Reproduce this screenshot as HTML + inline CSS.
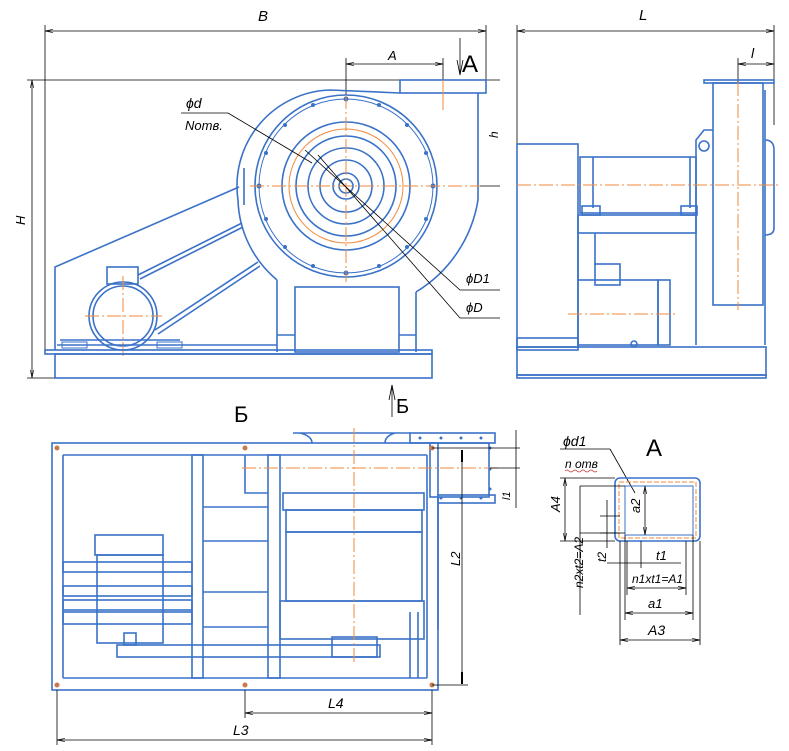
<!DOCTYPE html>
<html><head><meta charset="utf-8"><style>
html,body{margin:0;padding:0;background:#fff;}
svg{display:block;}
text{font-family:"Liberation Sans",sans-serif;font-style:italic;fill:#000;}
.b{stroke:#3a72c8;fill:none;stroke-width:1.6;}
.bt{stroke:#3a72c8;fill:none;stroke-width:1;}
.o{stroke:#f08a3c;fill:none;stroke-width:1;stroke-dasharray:14,3,2,3;}
.oc{stroke:#f08a3c;fill:none;stroke-width:1;}
.k{stroke:#000;fill:none;stroke-width:0.8;}
.d{fill:#3a72c8;}
</style></head><body>
<svg width="789" height="751" viewBox="0 0 789 751" xmlns="http://www.w3.org/2000/svg">
<defs>
<marker id="a" markerWidth="10" markerHeight="6" refX="10" refY="3" orient="auto-start-reverse"><path d="M0,1 L10,3 L0,5" fill="none" stroke="#000" stroke-width="0.8"/></marker>
</defs>

<!-- ===== FRONT VIEW ===== -->
<line class="k" x1="45" y1="31" x2="486" y2="31" marker-start="url(#a)" marker-end="url(#a)"/>
<line class="k" x1="45" y1="25" x2="45" y2="350"/>
<line class="k" x1="486" y1="25" x2="486" y2="80"/>
<text x="258" y="21" font-size="15">B</text>
<line class="k" x1="27" y1="80" x2="500" y2="80"/>
<line class="k" x1="27" y1="378" x2="57" y2="378"/>
<line class="k" x1="32" y1="80" x2="32" y2="378" marker-start="url(#a)" marker-end="url(#a)"/>
<text x="25" y="235" font-size="13" transform="rotate(-90 20 230)">H</text>
<line class="k" x1="346" y1="64" x2="443" y2="64" marker-start="url(#a)" marker-end="url(#a)"/>
<line class="k" x1="346" y1="58" x2="346" y2="100"/>
<line class="k" x1="443" y1="58" x2="443" y2="80"/>
<text x="388" y="60" font-size="13">A</text>
<line class="k" x1="460" y1="38" x2="460" y2="75"/>
<path d="M457,60 L460,75 L463,60" fill="none" stroke="#000" stroke-width="0.8"/>
<text x="462" y="72" font-size="24" style="font-style:normal">A</text>
<!-- h dim -->
<line class="k" x1="480" y1="186" x2="500" y2="186"/>
<text x="488" y="140" font-size="12" transform="rotate(-90 492 134)">h</text>

<!-- outlet -->
<rect class="b" x="400" y="80" width="86" height="13"/>
<line class="oc" x1="443" y1="80" x2="443" y2="110"/>
<!-- scroll -->
<path class="b" d="M400,93 L330,90 A 96 96 0 0 0 238,200 A 108 108 0 0 0 277,280 M416,292 A 132 132 0 0 0 478,200 L478,93"/>
<path class="b" d="M244,168 L244,205"/>
<!-- flange -->
<circle class="b" cx="346" cy="186" r="91"/>
<circle class="bt" cx="346" cy="186" r="87"/>
<g class="d">
<circle cx="346" cy="99" r="2.5"/><circle cx="346" cy="273" r="2.5"/><circle cx="259" cy="186" r="2.5"/><circle cx="433" cy="186" r="2.5"/>
<circle cx="313" cy="105" r="2"/><circle cx="379" cy="105" r="2"/><circle cx="285" cy="125" r="2"/><circle cx="407" cy="125" r="2"/>
<circle cx="266" cy="153" r="2"/><circle cx="426" cy="153" r="2"/><circle cx="266" cy="219" r="2"/><circle cx="426" cy="219" r="2"/>
<circle cx="285" cy="247" r="2"/><circle cx="407" cy="247" r="2"/><circle cx="313" cy="266" r="2"/><circle cx="379" cy="266" r="2"/>
</g>
<circle class="b" cx="346" cy="186" r="64"/>
<circle class="oc" cx="346" cy="186" r="57"/>
<circle class="b" cx="346" cy="186" r="50"/>
<circle class="b" cx="346" cy="186" r="38"/>
<circle class="b" cx="346" cy="186" r="26"/>
<circle class="b" cx="346" cy="186" r="13"/>
<circle class="b" cx="346" cy="186" r="7"/>
<line class="o" x1="250" y1="186" x2="480" y2="186"/>
<line class="o" x1="346" y1="95" x2="346" y2="282"/>
<!-- pedestal -->
<rect class="b" x="295" y="287" width="104" height="65"/>
<path class="b" d="M277,280 L277,352 M416,292 L416,352 M277,335 L295,335 M399,335 L416,335"/>
<!-- motor frame -->
<path class="b" d="M55,350 L55,267 L239,187"/>
<path class="b" d="M138,275 L242,223 M140,279 L243,227 M155,330 L258,262 M158,334 L260,266"/>
<rect class="b" x="107" y="267" width="31" height="17"/>
<circle class="b" cx="123" cy="316" r="34"/>
<circle class="b" cx="123" cy="316" r="30"/>
<line class="o" x1="85" y1="316" x2="162" y2="316"/>
<line class="o" x1="123" y1="276" x2="123" y2="357"/>
<!-- base -->
<rect class="b" x="45" y="350" width="387" height="4"/>
<rect class="b" x="55" y="354" width="377" height="24"/>
<path class="b" d="M57,345 L277,345 M60,340 L180,340"/>
<rect class="bt" x="62" y="342" width="25" height="6"/><rect class="bt" x="157" y="342" width="25" height="6"/>
<!-- leaders -->
<text x="186" y="108" font-size="14">ϕd</text>
<line class="k" x1="181" y1="113" x2="228" y2="113"/>
<text x="185" y="130" font-size="13">Nomв.</text>
<path class="k" d="M228,113 L312,163"/>
<path class="k" d="M305,150 L460,290 L500,290"/>
<path class="k" d="M318,155 L460,318 L500,318"/>
<text x="466" y="283" font-size="13">ϕD1</text>
<text x="466" y="312" font-size="13">ϕD</text>
<line class="k" x1="392" y1="385" x2="392" y2="417"/>
<path d="M389,400 L392,385 L395,400" fill="none" stroke="#000" stroke-width="0.8"/>
<text x="396" y="413" font-size="20" style="font-style:normal">Б</text>

<!-- ===== SIDE VIEW ===== -->
<line class="k" x1="517" y1="31" x2="774" y2="31" marker-start="url(#a)" marker-end="url(#a)"/>
<line class="k" x1="517" y1="25" x2="517" y2="144"/>
<line class="k" x1="774" y1="25" x2="774" y2="125"/>
<text x="639" y="20" font-size="15">L</text>
<line class="k" x1="738" y1="64" x2="774" y2="64" marker-start="url(#a)" marker-end="url(#a)"/>
<line class="k" x1="738" y1="58" x2="738" y2="82"/>
<text x="751" y="58" font-size="14">l</text>
<rect class="b" x="704" y="80" width="70" height="3"/>
<rect class="b" x="713" y="83" width="50" height="222"/>
<line class="b" x1="765" y1="90" x2="765" y2="345"/>
<path class="b" d="M765,140 Q774,140 774,150 L774,228 Q774,235 765,235"/>
<rect class="b" x="517" y="144" width="61" height="206"/>
<rect class="b" x="580" y="157" width="116" height="56"/>
<path class="b" d="M593,157 L593,208 M690,157 L690,208"/>
<rect class="b" x="582" y="206" width="18" height="9"/><rect class="b" x="681" y="206" width="16" height="9"/>
<rect class="b" x="578" y="215" width="118" height="18"/>
<path class="b" d="M696,345 L696,140 L704,130 L713,130 M578,233 L578,280 M595,233 L595,265"/>
<circle class="b" cx="704" cy="146" r="5"/>
<rect class="b" x="595" y="264" width="25" height="21"/>
<rect class="b" x="578" y="280" width="80" height="65"/>
<rect class="b" x="658" y="280" width="12" height="65"/>
<circle class="b" cx="634" cy="344" r="3"/>
<rect class="b" x="517" y="338" width="61" height="9"/>
<rect class="b" x="517" y="347" width="249" height="28"/>
<rect class="b" x="517" y="375" width="249" height="3"/>
<line class="o" x1="517" y1="185" x2="779" y2="185"/>
<line class="o" x1="738" y1="82" x2="738" y2="310"/>
<line class="o" x1="568" y1="314" x2="678" y2="314"/>

<!-- ===== VIEW Б ===== -->
<text x="234" y="422" font-size="22" style="font-style:normal">Б</text>
<rect class="b" x="52" y="443" width="386" height="247"/>
<path class="b" d="M63,455 L427,455 M63,678 L427,678 M63,455 L63,678 M427,455 L427,678"/>
<rect class="b" x="192" y="455" width="11" height="223"/>
<rect class="b" x="268" y="455" width="12" height="223"/>
<path class="b" d="M203,507 L268,507 M203,541 L268,541 M203,592 L268,592 M203,627 L268,627"/>
<path class="b" d="M293,433 L410,433 M300,433 Q312,436 312,443 M395,433 Q385,436 385,443"/>
<rect class="b" x="410" y="433" width="85" height="10"/>
<rect class="b" x="430" y="443" width="59" height="54"/>
<rect class="b" x="438" y="495" width="57" height="8"/>
<path class="b" d="M438,503 L438,630 M245,455 L245,493 L268,493"/>
<rect class="b" x="283" y="493" width="141" height="17"/>
<rect class="b" x="286" y="510" width="136" height="22"/>
<rect class="b" x="286" y="532" width="136" height="69"/>
<rect class="b" x="280" y="601" width="144" height="38"/>
<rect class="b" x="95" y="535" width="68" height="20"/>
<rect class="b" x="97" y="555" width="66" height="88"/>
<rect class="b" x="63" y="562" width="129" height="10"/>
<rect class="b" x="63" y="586" width="129" height="10"/>
<rect class="b" x="63" y="600" width="129" height="10"/>
<rect class="b" x="63" y="612" width="129" height="12"/>
<rect class="b" x="124" y="633" width="12" height="12"/>
<rect class="b" x="117" y="645" width="263" height="12"/>
<rect class="b" x="332" y="637" width="45" height="20"/>
<path class="b" d="M410,612 L410,678 M418,612 L418,678"/>
<line class="o" x1="242" y1="468" x2="500" y2="468"/>
<line class="o" x1="354" y1="428" x2="354" y2="663"/>
<g fill="#c87a4a"><circle cx="57" cy="448" r="2.5"/><circle cx="245" cy="448" r="2.5"/><circle cx="432" cy="448" r="2.5"/><circle cx="57" cy="685" r="2.5"/><circle cx="245" cy="685" r="2.5"/><circle cx="432" cy="685" r="2.5"/></g>
<g class="d"><circle cx="420" cy="438" r="1.5"/><circle cx="441" cy="438" r="1.5"/><circle cx="461" cy="438" r="1.5"/><circle cx="481" cy="438" r="1.5"/><circle cx="490" cy="448" r="1.5"/><circle cx="490" cy="469" r="1.5"/><circle cx="490" cy="489" r="1.5"/><circle cx="441" cy="498" r="1.5"/><circle cx="461" cy="498" r="1.5"/><circle cx="481" cy="498" r="1.5"/></g>
<path class="k" d="M432,448 L520,448 M490,468 L520,468 M432,685 L468,685"/>
<line class="k" x1="516" y1="430" x2="516" y2="508"/>
<line stroke="#000" stroke-width="2" x1="462" y1="450" x2="462" y2="462"/><line stroke="#000" stroke-width="2" x1="462" y1="672" x2="462" y2="684"/>
<line class="k" x1="462" y1="450" x2="462" y2="684"/>
<text x="457" y="573" font-size="13" transform="rotate(-90 455 568)">L2</text>
<text x="500" y="502" font-size="11" transform="rotate(-90 504 496)">l1</text>
<line class="k" x1="57" y1="690" x2="57" y2="745"/>
<line class="k" x1="245" y1="690" x2="245" y2="718"/>
<line class="k" x1="432" y1="690" x2="432" y2="745"/>
<line class="k" x1="245" y1="713" x2="432" y2="713" marker-start="url(#a)" marker-end="url(#a)"/>
<text x="328" y="708" font-size="14">L4</text>
<line class="k" x1="57" y1="740" x2="432" y2="740" marker-start="url(#a)" marker-end="url(#a)"/>
<text x="233" y="735" font-size="14">L3</text>

<!-- ===== VIEW A ===== -->
<text x="646" y="456" font-size="24" style="font-style:normal">A</text>
<text x="563" y="446" font-size="14">ϕd1</text>
<line class="k" x1="560" y1="449" x2="610" y2="449"/>
<text x="565" y="468" font-size="12">n отв</text>
<path d="M565,471 q2,-2 4,0 t4,0 t4,0 t4,0 t4,0 t4,0 t4,0 t4,0" fill="none" stroke="#d03030" stroke-width="0.7"/>
<path class="k" d="M610,449 L635,493"/>
<rect class="b" x="615" y="478" width="85" height="63" rx="5"/>
<rect class="bt" x="625" y="486" width="68" height="49"/>
<rect class="oc" x="619" y="482" width="77" height="56" stroke-dasharray="5,2"/>
<path class="k" d="M560,478 L615,478 M560,541 L615,541 M580,486 L625,486 M580,533 L625,533"/>
<line class="k" x1="565" y1="478" x2="565" y2="541" marker-start="url(#a)" marker-end="url(#a)"/>
<text x="555" y="517" font-size="13" transform="rotate(-90 555 512)">A4</text>
<line class="k" x1="580" y1="486" x2="580" y2="615"/>
<text x="575" y="590" font-size="12" transform="rotate(-90 578 585)">n2xt2=A2</text>
<line class="k" x1="645" y1="486" x2="645" y2="535" marker-start="url(#a)" marker-end="url(#a)"/>
<text x="634" y="513" font-size="13" transform="rotate(-90 637 510)">a2</text>
<path class="k" d="M600,516 L620,516 M600,533 L620,533"/>
<line class="k" x1="607" y1="500" x2="607" y2="548"/>
<text x="601" y="563" font-size="12" transform="rotate(-90 603 560)">t2</text>
<path class="k" d="M620,541 L620,645 M700,541 L700,645 M625,535 L625,620 M693,535 L693,620 M627,541 L627,595 M686,541 L686,595 M641,541 L641,568"/>
<line class="k" x1="607" y1="563" x2="681" y2="563"/>
<text x="656" y="560" font-size="13">t1</text>
<line class="k" x1="627" y1="588" x2="686" y2="588" marker-start="url(#a)" marker-end="url(#a)"/>
<text x="632" y="583" font-size="12">n1xt1=A1</text>
<line class="k" x1="625" y1="613" x2="693" y2="613" marker-start="url(#a)" marker-end="url(#a)"/>
<text x="648" y="608" font-size="13">a1</text>
<line class="k" x1="620" y1="640" x2="700" y2="640" marker-start="url(#a)" marker-end="url(#a)"/>
<text x="648" y="635" font-size="14">A3</text>
</svg>
</body></html>
